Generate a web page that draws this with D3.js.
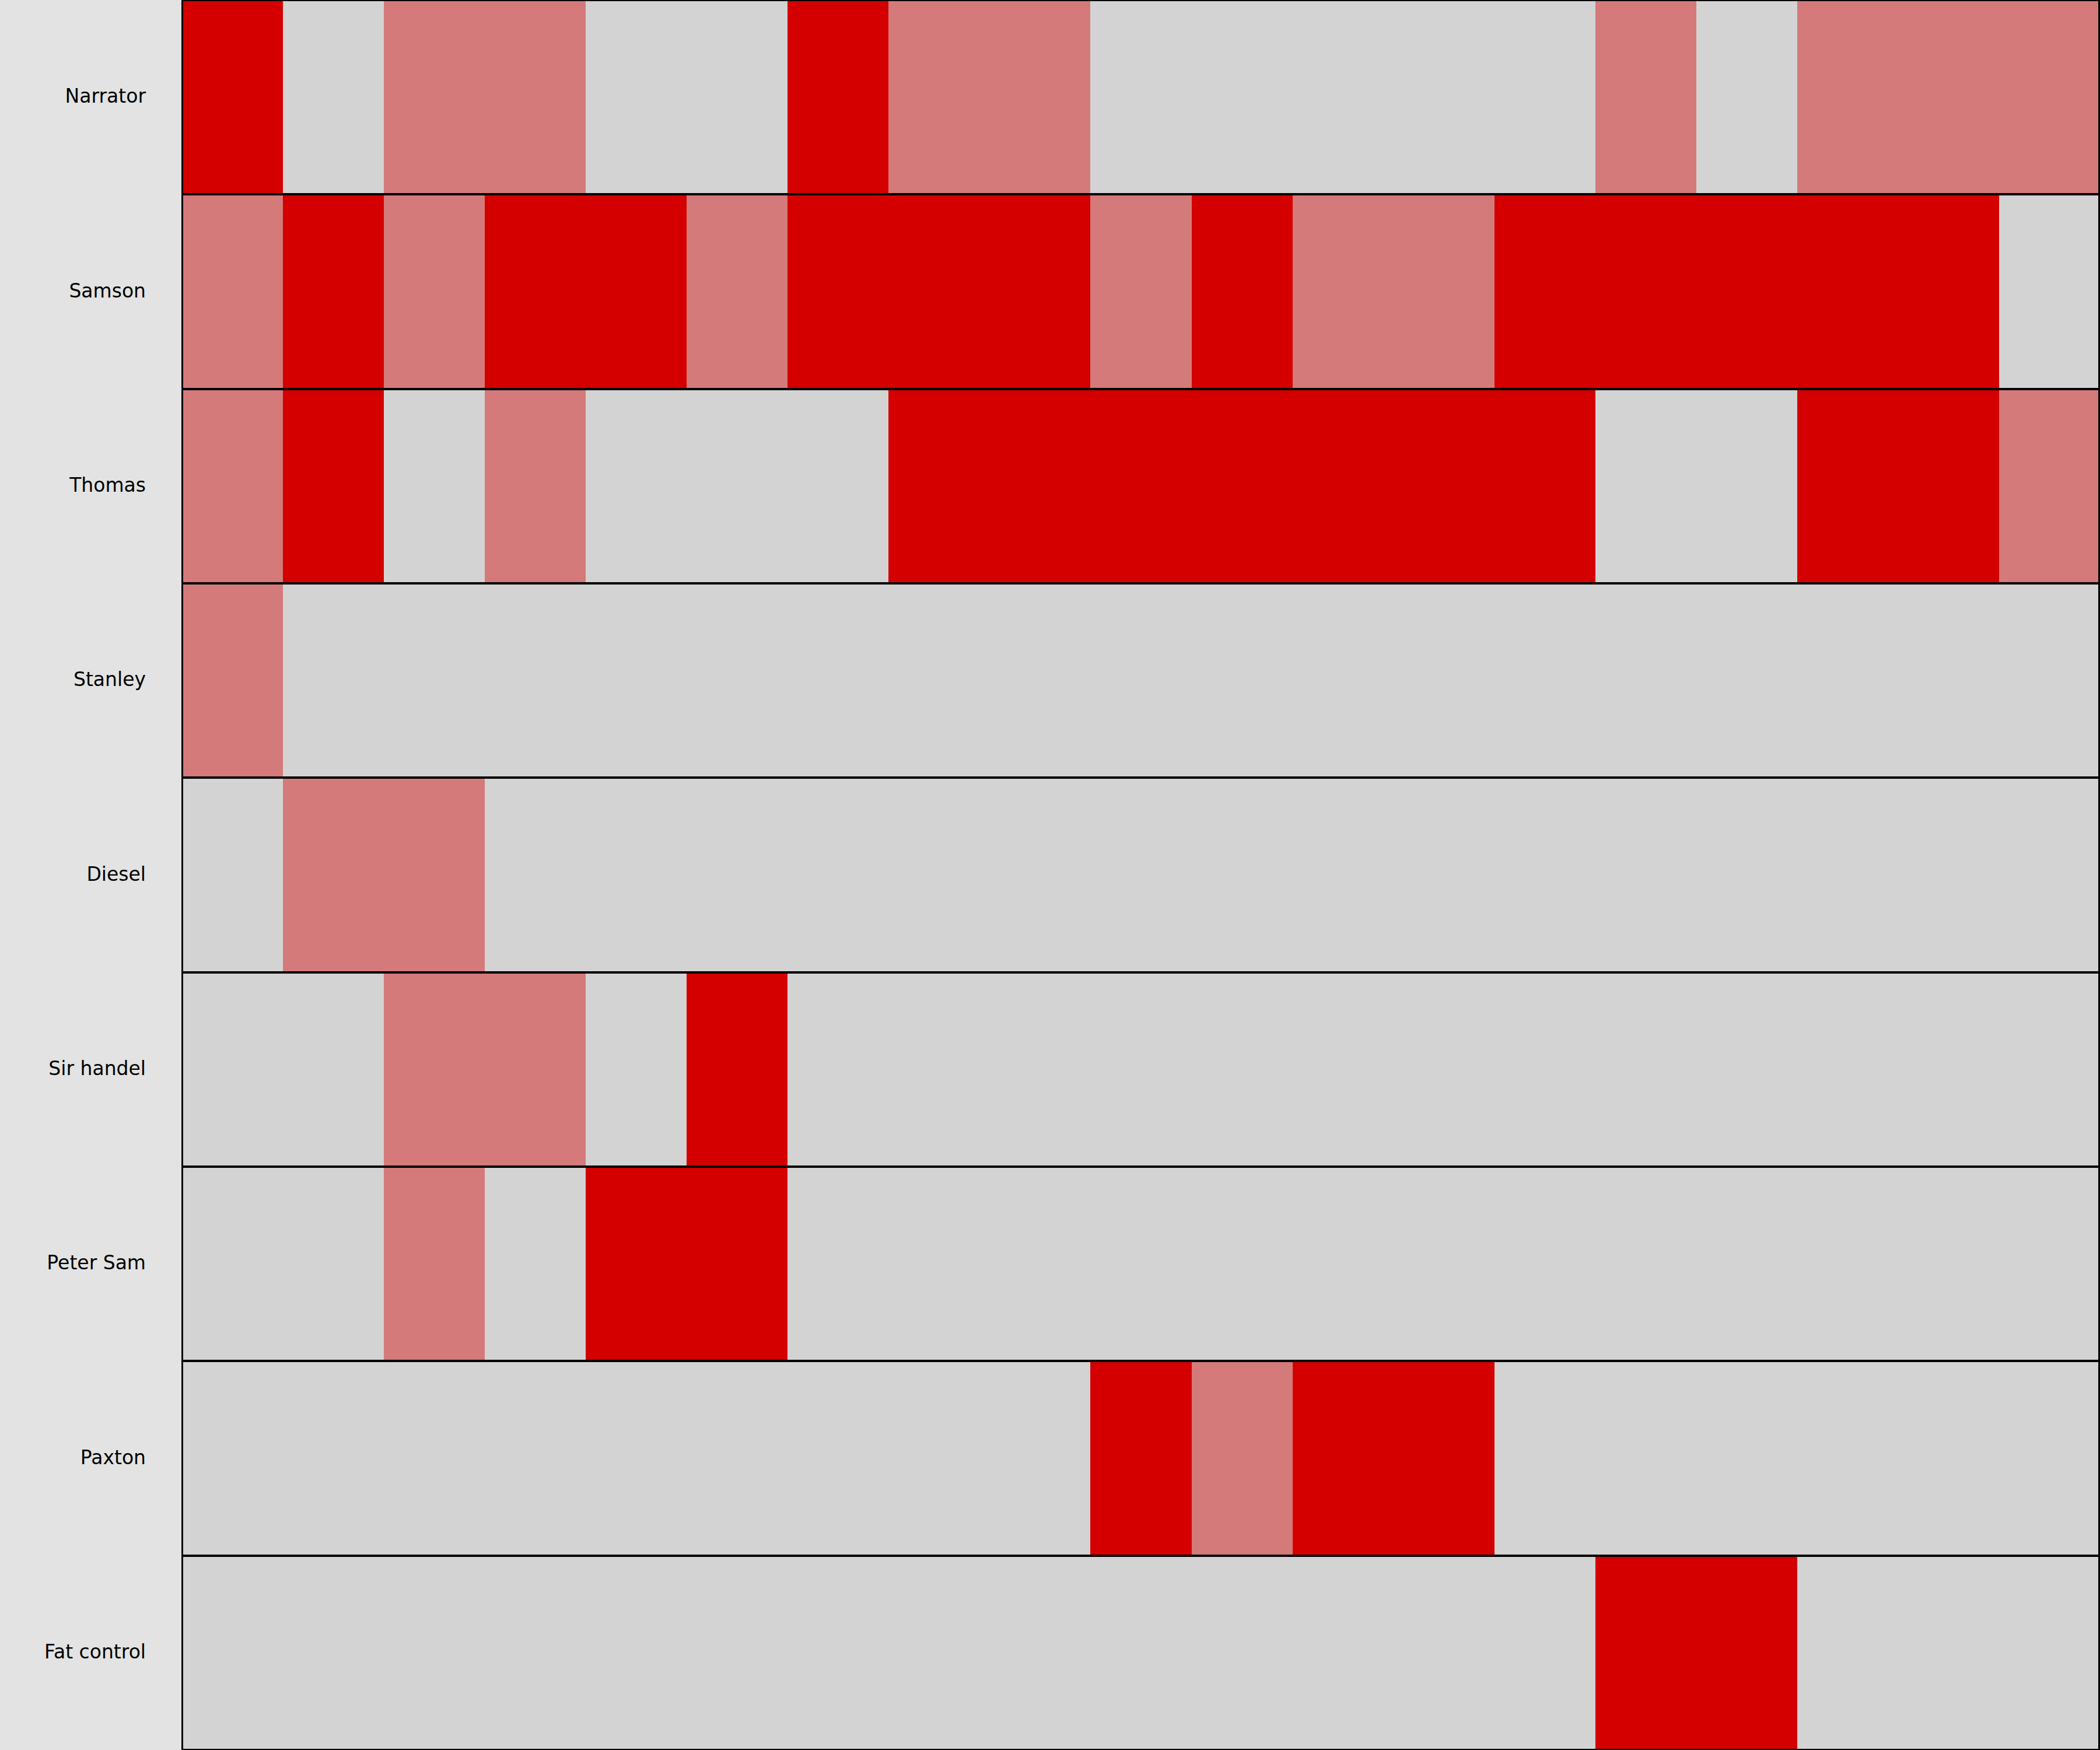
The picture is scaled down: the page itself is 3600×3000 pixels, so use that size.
<!DOCTYPE html>
<html><head><meta charset="utf-8">
<script src="https://cdn.jsdelivr.net/npm/d3@7"></script>
<style>body{margin:0;background:#e2e3e2;}</style>
</head><body>
<script>
const characters = ["Narrator","Samson","Thomas","Stanley","Diesel","Sir handel","Peter Sam","Paxton","Fat control"];
const columns = d3.range(19);
// 0 = absent, 1 = mentioned, 2 = speaking
const narrator   = [2,0,1,1,0,0,2,1,1,0,0,0,0,0,1,0,1,1,1];
const samson     = [1,2,1,2,2,1,2,2,2,1,2,1,1,2,2,2,2,2,0];
const thomas     = [1,2,0,1,0,0,0,2,2,2,2,2,2,2,0,0,2,2,1];
const stanley    = [1,0,0,0,0,0,0,0,0,0,0,0,0,0,0,0,0,0,0];
const diesel     = [0,1,1,0,0,0,0,0,0,0,0,0,0,0,0,0,0,0,0];
const sirHandel  = [0,0,1,1,0,2,0,0,0,0,0,0,0,0,0,0,0,0,0];
const peterSam   = [0,0,1,0,2,2,0,0,0,0,0,0,0,0,0,0,0,0,0];
const paxton     = [0,0,0,0,0,0,0,0,0,2,1,2,2,0,0,0,0,0,0];
const fatControl = [0,0,0,0,0,0,0,0,0,0,0,0,0,0,2,2,0,0,0];
const rows = [narrator,samson,thomas,stanley,diesel,sirHandel,peterSam,paxton,fatControl];

const W = 3600, H = 3000, left = 312;
const svg = d3.select("body").append("svg").attr("width",W).attr("height",H)
  .style("display","block");
svg.append("rect").attr("width",W).attr("height",H).attr("fill","#e2e3e2");

const x = d3.scaleBand().domain(columns).range([left, W]).padding(0);
const y = d3.scaleBand().domain(characters).range([0, H]).padding(0);
const color = d3.scaleOrdinal().domain([0,1,2]).range(["#d3d3d3","#d47a7a","#d40000"]);

const g = svg.append("g").attr("shape-rendering","crispEdges");
characters.forEach((c,i) => {
  g.selectAll(null).data(rows[i]).enter().append("rect")
    .attr("x",(d,j)=>Math.round(x(j)))
    .attr("y",Math.round(y(c)))
    .attr("width",(d,j)=>Math.round(j===18 ? W : x(j+1)) - Math.round(x(j)))
    .attr("height",Math.round(y.bandwidth())+1)
    .attr("fill",d=>color(d));
});
characters.forEach(c => {
  g.append("rect").attr("x",left+0.5).attr("y",y(c)+0.5)
    .attr("width",W-left-2).attr("height",y.bandwidth()-1)
    .attr("fill","none").attr("stroke","#000").attr("stroke-width",3);
});
svg.append("g").selectAll("text").data(characters).enter().append("text")
  .attr("x",250).attr("y",d=>y(d)+y.bandwidth()/2)
  .attr("text-anchor","end").attr("dominant-baseline","middle")
  .attr("font-family","DejaVu Sans").attr("font-size",33).attr("fill","#000")
  .text(d=>d);
</script>
</body></html>
